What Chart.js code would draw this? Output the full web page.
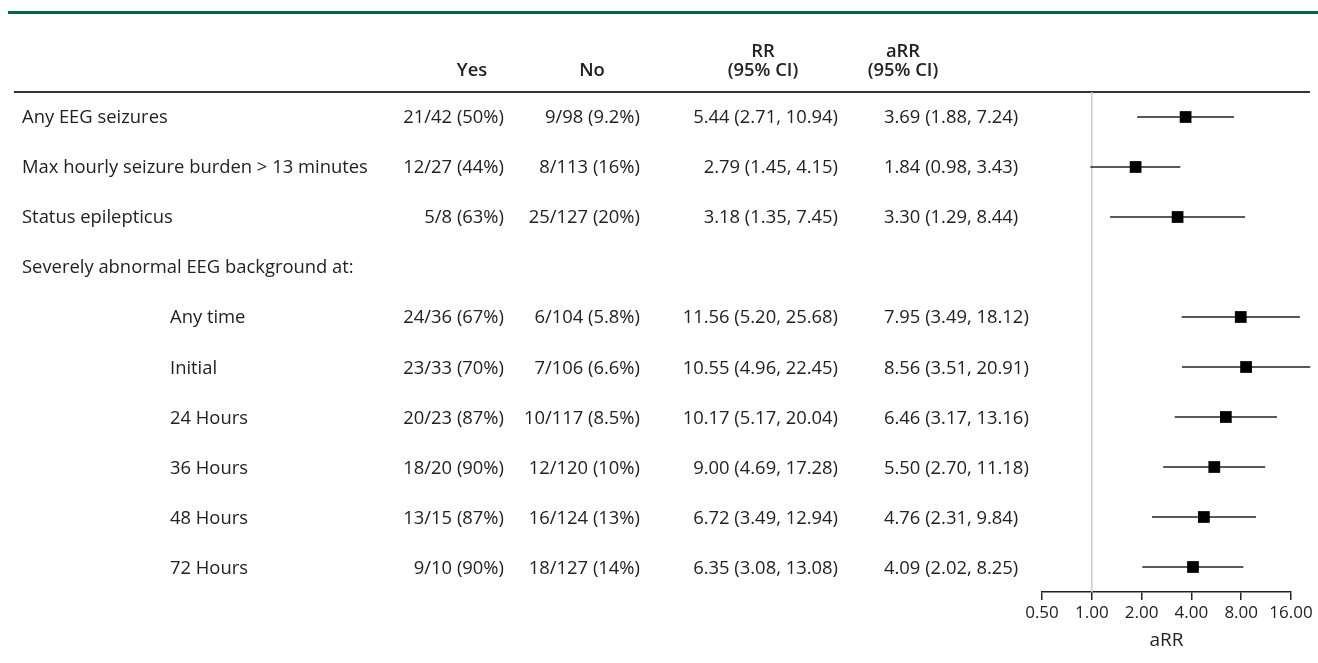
<!DOCTYPE html>
<html>
<head>
<meta charset="utf-8">
<script src="https://cdn.jsdelivr.net/npm/chart.js@4"></script>
<style>
  body { margin: 0; background: #fff; font-family: "Open Sans", "Noto Sans", sans-serif; color: #222; }
  #wrap { position: relative; width: 1318px; height: 663px; overflow: hidden; }
  #chart { position: absolute; left: 0; top: 0; }
  .cell { position: absolute; font-size: 18.4px; line-height: 24px; white-space: nowrap; }
  .hd { font-weight: 600; }
  .topline { position: absolute; left: 8px; right: 0; top: 11px; height: 3px; background: #00664a; }
  .hline { position: absolute; left: 14px; width: 1296px; top: 91px; height: 2px; background: #333; }
</style>
</head>
<body>
<div id="wrap">
  <div class="topline"></div>
  <div class="hline"></div>
  <canvas id="chart" width="1318" height="663"></canvas>
</div>
<script>
// table rows
const rowLabels = ["Any EEG seizures", "Max hourly seizure burden > 13 minutes", "Status epilepticus",
  "Severely abnormal EEG background at:", "Any time", "Initial", "24 Hours", "36 Hours", "48 Hours", "72 Hours"];
const indented = [false, false, false, false, true, true, true, true, true, true];
const yesCol = ["21/42 (50%)", "12/27 (44%)", "5/8 (63%)", "", "24/36 (67%)", "23/33 (70%)", "20/23 (87%)", "18/20 (90%)", "13/15 (87%)", "9/10 (90%)"];
const noCol = ["9/98 (9.2%)", "8/113 (16%)", "25/127 (20%)", "", "6/104 (5.8%)", "7/106 (6.6%)", "10/117 (8.5%)", "12/120 (10%)", "16/124 (13%)", "18/127 (14%)"];
const rrCol = ["5.44 (2.71, 10.94)", "2.79 (1.45, 4.15)", "3.18 (1.35, 7.45)", "", "11.56 (5.20, 25.68)", "10.55 (4.96, 22.45)", "10.17 (5.17, 20.04)", "9.00 (4.69, 17.28)", "6.72 (3.49, 12.94)", "6.35 (3.08, 13.08)"];

// adjusted RR and CI (plotted)
const aRR = [3.69, 1.84, 3.30, null, 7.95, 8.56, 6.46, 5.50, 4.76, 4.09];
const aLo = [1.88, 0.98, 1.29, null, 3.49, 3.51, 3.17, 2.70, 2.31, 2.02];
const aHi = [7.24, 3.43, 8.44, null, 18.12, 20.91, 13.16, 11.18, 9.84, 8.25];

const xTicks = [0.5, 1, 2, 4, 8, 16];

const wrap = document.getElementById("wrap");
function cell(text, x, y, align, cls) {
  const d = document.createElement("div");
  d.className = "cell" + (cls ? " " + cls : "");
  d.textContent = text;
  d.style.top = (y - 12) + "px";
  if (align === "right") { d.style.right = (1318 - x) + "px"; }
  else if (align === "center") { d.style.left = (x - 100) + "px"; d.style.width = "200px"; d.style.textAlign = "center"; }
  else { d.style.left = x + "px"; }
  wrap.appendChild(d);
}

// headers
cell("Yes", 472, 69, "center", "hd");
cell("No", 592, 69, "center", "hd");
cell("RR", 763, 50, "center", "hd");
cell("(95% CI)", 763, 69, "center", "hd");
cell("aRR", 903, 50, "center", "hd");
cell("(95% CI)", 903, 69, "center", "hd");

const fmt = v => v.toFixed(2);
rowLabels.forEach((lab, i) => {
  const y = 116 + 50.1 * i;
  cell(lab, indented[i] ? 170 : 22, y, "left");
  if (yesCol[i]) cell(yesCol[i], 504, y, "right");
  if (noCol[i]) cell(noCol[i], 640, y, "right");
  if (rrCol[i]) cell(rrCol[i], 838, y, "right");
  if (aRR[i] != null) cell(fmt(aRR[i]) + " (" + fmt(aLo[i]) + ", " + fmt(aHi[i]) + ")", 884, y, "left");
});

// forest plot
const ciSets = [];
aRR.forEach((v, i) => {
  if (v == null) return;
  ciSets.push({
    data: [{ x: aLo[i], y: i }, { x: aHi[i], y: i }],
    showLine: true, borderColor: "#222", borderWidth: 1.5, pointRadius: 0, clip: false, order: 2
  });
});

new Chart(document.getElementById("chart"), {
  type: "scatter",
  data: {
    datasets: [
      {
        data: [{ x: 1, y: -0.5 }, { x: 1, y: 9.5 }],
        showLine: true, borderColor: "#cccccc", borderWidth: 1.5, pointRadius: 0, order: 3
      },
      ...ciSets,
      {
        data: aRR.map((v, i) => v == null ? null : { x: v, y: i }).filter(p => p),
        pointStyle: "rect", pointRadius: 8.3, backgroundColor: "#000", borderColor: "#000",
        borderWidth: 0, clip: false, order: 1
      }
    ]
  },
  options: {
    responsive: false,
    animation: false,
    layout: { padding: { left: 1042, right: 27, top: 92, bottom: 11 } },
    plugins: { legend: { display: false }, tooltip: { enabled: false } },
    scales: {
      x: {
        type: "logarithmic",
        min: 0.5,
        max: 16,
        afterBuildTicks: s => { s.ticks = xTicks.map(v => ({ value: v })); },
        afterFit: s => { s.height = 60; },
        ticks: {
          callback: v => Number(v).toFixed(2),
          color: "#222",
          font: { family: "'Open Sans'", size: 17 },
          padding: 3,
          maxRotation: 0,
          autoSkip: false
        },
        grid: { drawOnChartArea: false, drawTicks: true, tickLength: 8, color: "#222", lineWidth: 1.5 },
        border: { display: true, color: "#222", width: 1.5 },
        title: { display: true, text: "aRR", color: "#222", font: { family: "'Open Sans'", size: 19 }, padding: 0 }
      },
      y: {
        type: "linear",
        min: -0.5,
        max: 9.5,
        reverse: true,
        display: false
      }
    }
  }
});
</script>
</body>
</html>
